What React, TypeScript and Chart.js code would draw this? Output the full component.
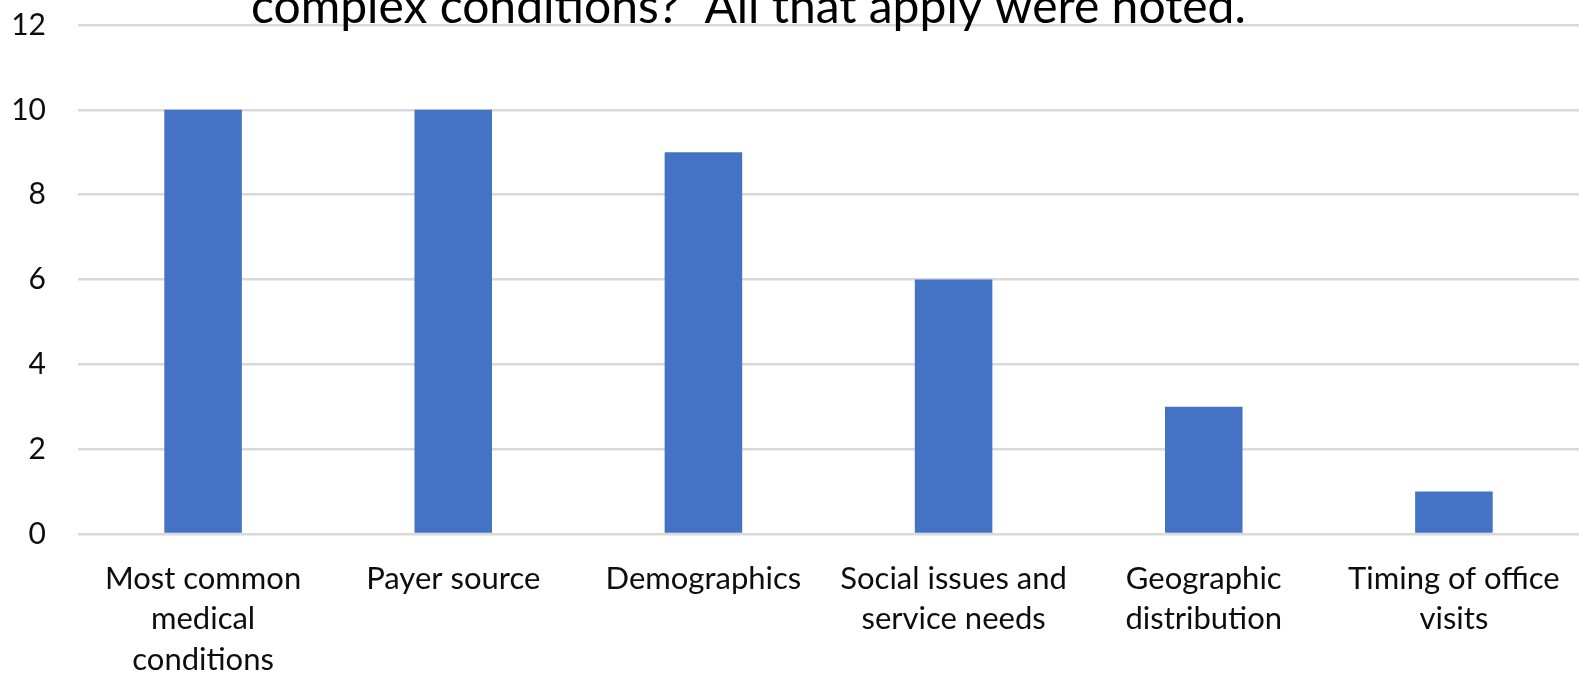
import React, { useEffect, useRef } from "react";
import { Chart, registerables } from "chart.js";

Chart.register(...registerables);

const categories: string[][] = [
  ["Most common", "medical", "conditions"],
  ["Payer source"],
  ["Demographics"],
  ["Social issues and", "service needs"],
  ["Geographic", "distribution"],
  ["Timing of office", "visits"],
];
const counts: number[] = [10, 10, 9, 6, 3, 1];
const yTicks: number[] = [0, 2, 4, 6, 8, 10, 12];
const titleText = "complex conditions?  All that apply were noted.";

const FONT = "Lato, 'Open Sans', sans-serif";

const titlePlugin = {
  id: "clippedTitle",
  afterDraw(chart: any) {
    const ctx = chart.ctx;
    ctx.save();
    ctx.font = `48px ${FONT}`;
    ctx.fillStyle = "#000000";
    ctx.textAlign = "left";
    ctx.textBaseline = "alphabetic";
    ctx.fillText(titleText, 251, 23);
    ctx.restore();
  },
};

export default function App() {
  const ref = useRef<HTMLCanvasElement | null>(null);
  useEffect(() => {
    document.body.style.margin = "0";
    const canvas = ref.current;
    if (!canvas) return;
    const chart = new Chart(canvas, {
      type: "bar",
      data: {
        labels: categories,
        datasets: [
          {
            data: counts,
            backgroundColor: "#4472C4",
            borderWidth: 0,
            barPercentage: 0.31,
            categoryPercentage: 1,
          },
        ],
      },
      options: {
        animation: false,
        responsive: false,
        maintainAspectRatio: false,
        layout: { padding: { top: 25, right: -10, left: 0, bottom: 0 } },
        plugins: {
          legend: { display: false },
          tooltip: { enabled: false },
          title: { display: false },
        },
        scales: {
          x: {
            grid: { display: false, drawTicks: false },
            border: { display: false },
            ticks: {
              color: "#0d0d0d",
              font: { family: FONT, size: 31, lineHeight: 1.3 },
              padding: 25,
              maxRotation: 0,
              autoSkip: false,
            },
            afterFit(scale: any) {
              scale.height = 139;
              scale.paddingLeft = 0;
              scale.paddingRight = 0;
              scale.paddingTop = 0;
              scale.paddingBottom = 0;
            },
          },
          y: {
            min: 0,
            max: 12,
            afterBuildTicks(scale: any) {
              scale.ticks = yTicks.map((v) => ({ value: v }));
            },
            grid: { color: "#d9d9d9", lineWidth: 2.5, drawTicks: false },
            border: { display: false },
            ticks: {
              color: "#0d0d0d",
              font: { family: FONT, size: 30 },
              padding: 32,
            },
            afterFit(scale: any) {
              scale.width = 78;
              scale.paddingLeft = 0;
              scale.paddingRight = 0;
              scale.paddingTop = 0;
              scale.paddingBottom = 0;
            },
          },
        },
      },
      plugins: [titlePlugin],
    });
    return () => chart.destroy();
  }, []);
  return (
    <div style={{ width: 1579, height: 673 }}>
      <canvas ref={ref} width={1579} height={673} style={{ display: "block" }} />
    </div>
  );
}
